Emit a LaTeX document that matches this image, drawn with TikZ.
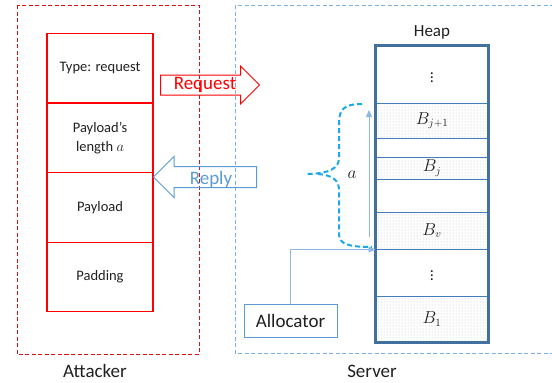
\documentclass[tikz,border=0pt]{standalone}
\usepackage{fontspec}
\setmainfont{Carlito}
\usetikzlibrary{positioning,patterns,shapes.arrows,arrows.meta}

\definecolor{msgred}{HTML}{FF0000}
\definecolor{atkred}{HTML}{E01010}
\definecolor{srvblue}{HTML}{7DB1E2}
\definecolor{heapblue}{HTML}{41719C}
\definecolor{slotblue}{HTML}{3F7FC0}
\definecolor{replyblue}{HTML}{5B9BD5}
\definecolor{linkblue}{HTML}{8DB8E2}
\definecolor{bracecyan}{HTML}{1BA8E8}
\definecolor{ink}{HTML}{202020}

\begin{document}
\begin{tikzpicture}[
            x=1pt, y=-1pt,
            every node/.style={text=ink},
            big/.style={font=\fontsize{19}{22}\selectfont},
            field/.style={
                draw=msgred,
                line width=1.2pt,
                minimum width=106pt,
                minimum height=69.5pt,
                align=center,
                font=\fontsize{14.5}{19}\selectfont
            },
            slot/.style={
                draw=slotblue,
                line width=1pt,
                minimum width=112pt,
                inner sep=0pt,
                font=\fontsize{16}{16}\selectfont
            },
            used/.style={slot, pattern=dots, pattern color=gray!55},
            feed/.style={draw=linkblue, line width=0.9pt, -{Triangle[length=7pt,width=6pt]}},
            bracket/.style={draw=bracecyan, line width=2pt, dash pattern=on 5pt off 3pt},
            msg/.style={single arrow, line width=1pt, inner xsep=0pt, anchor=tail}
        ]
            \useasboundingbox (0,0) rectangle (552,383);

            % the two sides
            \draw[atkred, line width=0.9pt, dash pattern=on 4pt off 2.5pt] (17,5) rectangle (199,354);
            \draw[srvblue, line width=1pt, dash pattern=on 4pt off 2.5pt] (235,5) rectangle (560,353);
            \node[big] (atklbl) at (95,371) {Attacker};
            \node[big] (srvlbl) at (372,371) {Server};

            % message fields
            \foreach \n/\txt/\y in {
                1/Type: request/68,
                2/{Payload’s\\length $a$}/138,
                3/Payload/207.5,
                4/Padding/277
            } {
                \node[field] (f\n) at (100,\y) {\txt};
            }

            % heap slots
            \foreach \name/\kind/\top/\bot/\txt in {
                top/slot/46/103/$\vdots$,
                bjp/used/103/138/$B_{j+1}$,
                gapa/slot/138/157/{},
                bj/used/157/179/$B_j$,
                gapb/slot/179/212/{},
                bv/used/212/249/$B_v$,
                mid/slot/249/296/$\vdots$,
                b1/used/296/342/$B_1$
            } {
                \node[\kind, minimum height={(\bot-\top)*1pt}] (\name) at (432,{(\top+\bot)/2}) {\txt};
            }
            \draw[heapblue, line width=2.5pt] (top.north west) rectangle (b1.south east);
            \node[font=\fontsize{17}{20}\selectfont, above=3pt of top] (heaplbl) {Heap};

            % request / reply
            \node[msg, draw=msgred, inner ysep=9.5pt, minimum height=99pt,
                single arrow head extend=9pt] (reqarrow) at (160,85) {};
            \node[big, text=msgred] (reqtxt) at (205,85) {Request};
            \node[msg, draw=replyblue, inner ysep=10pt, minimum height=103pt,
                single arrow head extend=10pt, shape border rotate=180] (reparrow) at (257,177) {};
            \node[big, text=replyblue] (reptxt) at (211,179) {Reply};

            % allocator
            \node[big, draw=replyblue, line width=1pt, minimum width=93pt, minimum height=33pt] (alloc) at (290.5,320.5) {Allocator};
            \draw[feed] (alloc.north) |- (bv.south west);

            % length a
            \coordinate (lenlow) at (369,237);
            \coordinate (lenhigh) at (369,110);
            \draw[feed] (lenlow) -- (lenhigh);
            \draw[bracket] (362,104) .. controls (343,104) and (339,110) .. (339,124) -- (339,158)
                .. controls (339,168) and (330,174) .. (305,174);
            \draw[bracket] (318,174) .. controls (332,175) and (339,180) .. (339,190) -- (339,234)
                .. controls (339,244) and (348,247) .. (372,247);
            \node[font=\fontsize{16}{16}\selectfont] (alen) at (352,175) {$a$};
        \end{tikzpicture}
\end{document}
